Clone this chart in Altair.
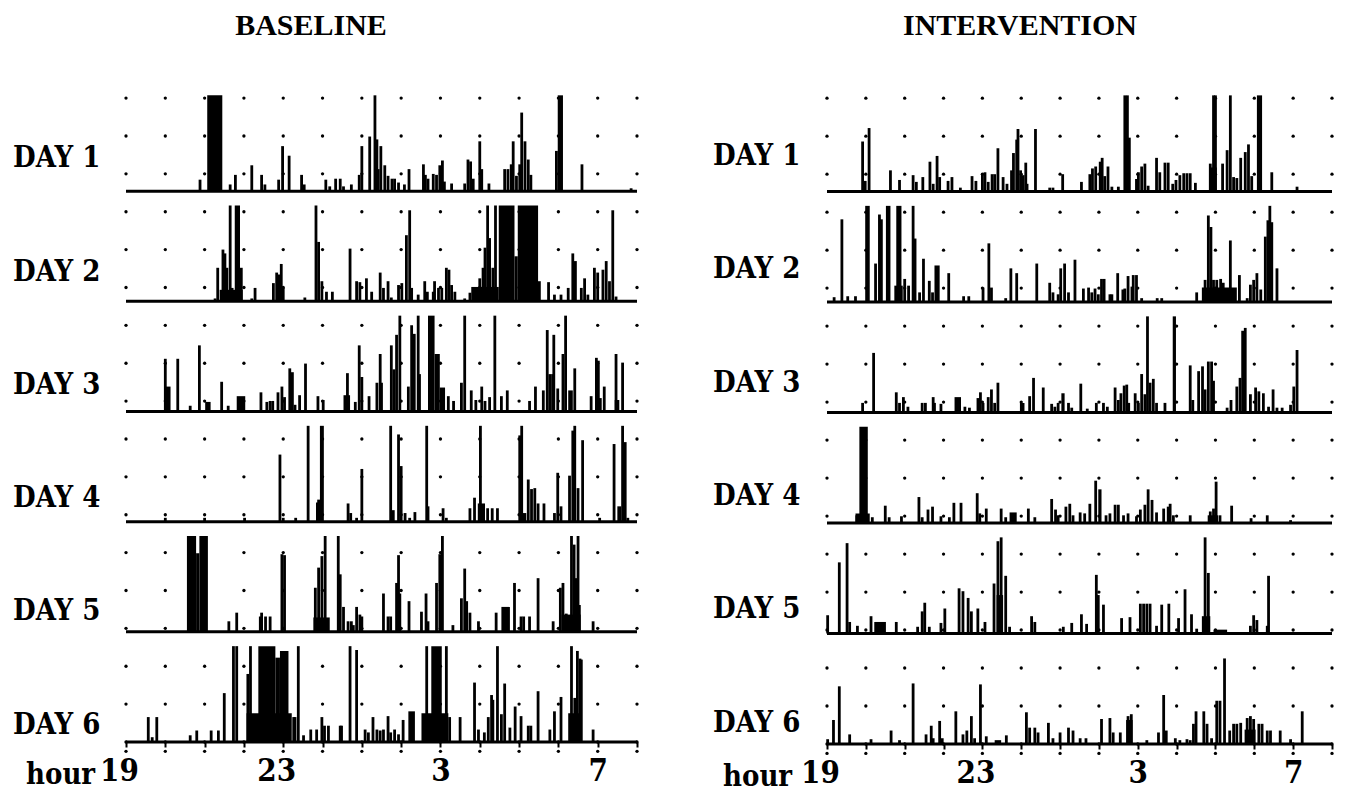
import altair as alt
import pandas as pd

# ---------------- data (minutes after 19:00, activity height in % of band) ----------------
HOUR_START, HOUR_END = 19, 32
TICK_HOURS = list(range(19, 33))
LABEL_HOURS = [19, 23, 27, 31]
LABEL_TEXT = ["19", "23", "3", "7"]
DAYS = [1, 2, 3, 4, 5, 6]

B1 = [(113,12),(159,7),(167,17),(192,27),(207,17),(212,7),(233,12),(239,47),(249,37),(268,17),(272,7),(305,12),(311,5),(320,13),(327,13),(332,5),(344,7),(356,17),(360,47),(372,57),(380,100),(383,54),(385,23),(389,47),(395,27),(400,16),(406,13),(410,13),(416,9),(425,7),(432,23),(454,28),(457,17),(461,13),(469,18),(474,17),(479,27),(483,32),(486,10),(497,8),(517,8),(522,33),(526,31),(530,13),(540,52),(543,23),(554,8),(578,23),(583,23),(588,28),(591,52),(596,16),(601,28),(604,82),(609,52),(614,33),(618,17),(657,42),(696,28),(771,3)]
B1_BLOCKS = [(124,147,100),(659,667,100)]

B2 = [(136,3),(140,35),(148,54),(151,50),(154,35),(159,100),(162,14),(176,35),(192,3),(197,14),(225,19),(230,30),(234,28),(237,39),(240,14),(273,4),(290,100),(294,62),(299,21),(306,10),(315,10),(342,55),(352,21),(357,20),(367,24),(375,10),(388,30),(393,14),(400,21),(405,4),(416,17),(421,19),(428,69),(433,95),(436,14),(446,7),(456,21),(460,10),(469,10),(471,21),(477,14),(482,14),(489,35),(493,33),(497,17),(502,10),(517,3),(525,9),(532,14),(540,24),(545,35),(548,56),(552,100),(555,66),(560,35),(564,100),(631,21),(645,20),(654,7),(664,7),(675,14),(682,50),(686,42),(695,14),(700,24),(705,7),(715,35),(720,30),(728,33),(733,42),(738,21),(743,95),(748,5)]
B2_BLOCKS = [(143,178,12),(166,174,100),(527,569,15),(569,593,100),(593,598,47),(598,629,100)]

B3 = [(60,55),(79,55),(98,6),(112,69),(123,10),(127,10),(146,31),(156,6),(206,20),(215,10),(220,11),(224,11),(232,20),(238,26),(242,15),(250,45),(254,41),(258,7),(265,17),(274,50),(293,16),(301,12),(338,40),(350,10),(356,69),(360,36),(371,16),(383,30),(388,60),(390,30),(405,69),(409,44),(413,80),(418,100),(431,26),(436,90),(440,81),(446,100),(448,39),(492,16),(500,11),(512,30),(517,100),(527,22),(534,12),(543,26),(548,11),(555,15),(563,100),(573,16),(582,22),(616,11),(625,26),(637,22),(643,85),(647,39),(653,80),(659,24),(667,60),(671,100),(685,45),(710,16),(718,56),(721,53),(724,14),(730,26),(748,60),(758,51)]
B3_BLOCKS = [(61,68,26),(169,182,16),(332,342,17),(461,471,100),(471,479,60),(479,487,25),(649,654,39),(675,682,22),(746,753,12)]

B4 = [(60,4),(120,4),(181,4),(235,70),(240,4),(259,4),(278,100),(294,23),(339,19),(343,9),(352,4),(360,55),(404,100),(408,12),(416,91),(420,58),(426,9),(433,4),(441,10),(459,100),(461,16),(484,14),(489,4),(525,14),(532,25),(541,100),(552,14),(559,14),(567,14),(601,90),(604,100),(614,44),(619,34),(624,35),(629,19),(638,19),(654,9),(659,51),(664,16),(677,48),(682,95),(685,100),(690,35),(697,85),(723,4),(745,81),(758,100),(762,83),(766,4)]
B4_BLOCKS = [(290,296,20),(296,302,100),(537,548,19),(606,611,9),(750,756,16)]

B5 = [(157,11),(169,20),(205,16),(207,20),(213,16),(220,16),(238,81),(242,80),(289,46),(294,67),(299,79),(304,100),(324,100),(327,60),(332,26),(339,11),(344,11),(347,7),(352,26),(357,18),(360,16),(393,40),(400,16),(404,16),(413,51),(416,80),(418,40),(432,32),(451,21),(458,40),(461,11),(474,51),(479,81),(483,100),(499,7),(512,35),(517,66),(520,32),(525,20),(538,11),(565,20),(593,51),(603,16),(607,16),(616,16),(629,56),(652,11),(663,46),(667,51),(672,19),(680,100),(684,91),(687,56),(690,100),(692,28),(713,11)]
B5_BLOCKS = [(93,107,100),(107,112,82),(112,125,100),(286,311,15),(573,586,26),(665,694,18)]

B6 = [(34,26),(40,5),(47,26),(98,7),(108,12),(130,12),(141,12),(150,51),(164,100),(169,100),(186,71),(190,100),(192,27),(197,22),(256,26),(258,26),(263,100),(271,7),(282,13),(291,13),(299,26),(303,17),(309,17),(327,17),(329,17),(342,100),(352,96),(365,13),(370,10),(377,26),(383,13),(388,12),(393,13),(400,27),(404,10),(410,13),(416,8),(423,23),(459,100),(489,100),(494,26),(510,26),(532,62),(538,13),(547,10),(553,26),(558,49),(560,44),(567,100),(573,29),(578,61),(586,15),(594,37),(603,27),(614,17),(618,17),(629,53),(647,13),(654,32),(664,47),(680,100),(685,46),(689,95),(693,87),(695,86),(713,13)]
B6_BLOCKS = [(184,253,30),(202,228,100),(228,235,88),(235,248,95),(431,441,32),(451,492,30),(466,482,100),(675,695,30)]

I1 = [(55,52),(59,11),(65,66),(98,22),(112,12),(133,17),(138,10),(148,15),(159,31),(164,8),(170,37),(174,15),(187,11),(193,15),(206,4),(224,16),(230,11),(240,19),(244,20),(249,10),(255,18),(259,18),(264,45),(272,15),(278,8),(285,22),(288,40),(293,54),(295,65),(299,22),(303,17),(307,30),(309,8),(322,65),(344,4),(349,4),(364,18),(393,10),(406,18),(410,24),(415,26),(422,31),(425,35),(429,16),(434,26),(440,5),(450,5),(460,100),(464,100),(467,56),(478,13),(481,20),(486,26),(491,29),(496,6),(509,35),(514,20),(522,30),(527,30),(534,8),(539,12),(545,17),(551,19),(556,19),(561,19),(569,9),(592,29),(597,100),(600,100),(611,29),(618,43),(623,100),(628,15),(633,14),(639,35),(646,41),(651,49),(656,16),(687,20),(726,5)]
I1_BLOCKS = [(590,602,25),(664,672,100)]

I2 = [(11,5),(23,86),(32,6),(44,6),(75,40),(81,91),(84,86),(120,24),(126,17),(133,100),(136,66),(143,10),(149,45),(158,22),(163,10),(188,30),(211,6),(219,6),(241,15),(250,61),(254,15),(276,4),(284,35),(293,30),(324,40),(344,20),(349,10),(357,8),(361,35),(367,40),(373,10),(383,44),(396,14),(404,15),(409,10),(414,14),(419,8),(424,24),(428,24),(437,8),(440,8),(449,30),(457,13),(460,14),(465,27),(471,16),(473,28),(478,28),(486,4),(510,4),(517,4),(571,10),(584,23),(589,90),(593,78),(597,23),(602,23),(608,24),(612,20),(623,64),(637,28),(649,4),(654,18),(659,23),(664,30),(670,13),(677,68),(681,85),(684,100),(687,83),(695,35)]
I2_BLOCKS = [(59,66,100),(91,98,100),(104,117,17),(107,115,100),(166,174,38),(579,633,15)]

I3 = [(55,10),(72,62),(107,21),(112,10),(118,16),(125,6),(147,10),(152,10),(164,16),(166,10),(176,9),(213,6),(220,5),(237,21),(241,10),(249,16),(254,24),(259,10),(264,31),(313,17),(319,36),(334,26),(347,9),(352,6),(357,10),(373,10),(378,5),(392,30),(402,4),(416,10),(427,10),(433,6),(445,26),(450,13),(454,20),(459,28),(463,29),(466,10),(476,20),(481,10),(486,40),(491,19),(495,100),(499,31),(504,35),(509,10),(522,10),(561,49),(565,13),(574,43),(580,48),(584,24),(589,53),(594,53),(597,33),(618,5),(624,13),(633,27),(638,36),(642,85),(646,88),(654,19),(662,26),(667,22),(674,20),(682,6),(689,24),(695,5),(703,5),(716,8),(721,27),(726,65)]
I3_BLOCKS = [(197,207,16),(231,236,15),(298,305,10),(362,367,20),(534,539,100)]

I4 = [(46,8),(70,6),(90,18),(96,6),(115,7),(142,27),(147,6),(156,14),(163,17),(176,7),(189,6),(196,21),(207,21),(232,31),(236,10),(246,15),(269,15),(276,6),(311,15),(321,6),(347,25),(353,14),(357,8),(369,17),(375,20),(380,8),(391,11),(398,10),(406,20),(415,44),(431,8),(437,10),(445,19),(450,19),(458,8),(465,10),(478,7),(484,14),(491,19),(496,35),(502,24),(509,11),(520,15),(527,17),(530,20),(535,8),(561,8),(592,12),(597,15),(601,43),(607,8),(625,18),(655,5),(680,8),(716,3)]
I4_BLOCKS = [(44,66,10),(50,63,100),(282,293,11),(419,424,35),(588,604,8)]

I5 = [(1,19),(19,74),(31,94),(35,12),(47,8),(68,18),(107,12),(140,7),(147,23),(151,32),(158,7),(176,11),(182,26),(204,47),(210,44),(218,37),(223,23),(233,26),(244,12),(258,52),(264,96),(269,100),(276,60),(282,7),(316,18),(321,12),(365,7),(378,11),(393,20),(401,10),(416,61),(419,40),(427,30),(455,16),(468,17),(484,31),(489,31),(494,31),(499,31),(509,8),(517,30),(528,31),(543,16),(553,46),(563,20),(571,5),(584,100),(589,63),(654,8),(659,19),(664,14),(680,8),(682,60)]
I5_BLOCKS = [(73,91,12),(262,272,40),(579,592,18),(597,618,4)]

I6 = [(1,5),(10,25),(19,60),(35,10),(68,5),(99,14),(112,4),(133,63),(153,10),(161,19),(164,6),(174,24),(178,6),(199,34),(210,10),(216,14),(223,29),(228,6),(237,62),(246,8),(277,9),(308,33),(313,17),(321,17),(326,12),(342,22),(349,6),(360,12),(373,17),(380,14),(391,6),(400,6),(424,26),(437,27),(442,12),(453,12),(465,29),(470,31),(494,4),(512,12),(520,51),(524,14),(538,6),(545,4),(556,5),(561,4),(566,21),(570,34),(582,34),(587,21),(594,6),(602,45),(607,45),(614,89),(622,14),(628,21),(633,21),(639,22),(649,27),(654,29),(659,26),(667,21),(672,21),(680,14),(685,14),(700,14),(716,5),(734,34)]
I6_BLOCKS = [(259,269,4),(462,472,25),(645,662,15)]

BASELINE_SPIKES = [B1, B2, B3, B4, B5, B6]
BASELINE_BLOCKS = [B1_BLOCKS, B2_BLOCKS, B3_BLOCKS, B4_BLOCKS, B5_BLOCKS, B6_BLOCKS]
INTERV_SPIKES = [I1, I2, I3, I4, I5, I6]
INTERV_BLOCKS = [I1_BLOCKS, I2_BLOCKS, I3_BLOCKS, I4_BLOCKS, I5_BLOCKS, I6_BLOCKS]

DOT_LEVELS = [i * 0.3438 for i in range(18)]
BAND = 0.87  # full-scale height of a spike, in day-row units
LABEL_FONT = "DejaVu Serif Condensed, DejaVu Serif, serif"
TITLE_FONT = "Liberation Serif, Times New Roman, serif"


def panel(title, spikes, blocks, width, height, raise_, title_dx, title_dy,
          label_dx, hour_dx, anchor):
    xs = alt.Scale(domain=[HOUR_START, HOUR_END], nice=False, zero=False)
    ys = alt.Scale(domain=[0, 6], nice=False, zero=False)
    label_expr = " : ".join(
        [f"datum.value == {h} ? '{t}'" for h, t in zip(LABEL_HOURS, LABEL_TEXT)]
    ) + " : ''"
    xaxis = alt.Axis(values=TICK_HOURS, labelExpr=label_expr, ticks=True, tickSize=5,
                     tickWidth=2, tickColor="black", domain=False, grid=False, title=None,
                     labelFont=LABEL_FONT, labelFontSize=31, labelFontWeight="bold",
                     labelColor="black", labelPadding=9, labelFlush=False, labelOverlap=False,
                     labelOffset={"condition": {"test": "datum.value == 19 || datum.value == 23",
                                                "value": -7},
                                  "value": 0})

    def X(f):
        return alt.X(f, type="quantitative", scale=xs, axis=xaxis)

    def Y(f):
        return alt.Y(f, type="quantitative", scale=ys, axis=None)

    sp_rows, bl_rows, base_rows = [], [], []
    for d, lst in zip(DAYS, spikes):
        for m, h in lst:
            sp_rows.append({"day": d, "x": HOUR_START + m / 60, "y0": 6 - d,
                            "y1": 6 - d + h / 100 * BAND})
    for d, lst in zip(DAYS, blocks):
        for m0, m1, h in lst:
            bl_rows.append({"day": d, "x0": HOUR_START + m0 / 60, "x1": HOUR_START + m1 / 60,
                            "y0": 6 - d, "y1": 6 - d + h / 100 * BAND})
    for d in DAYS:
        base_rows.append({"day": d, "x0": HOUR_START, "x1": HOUR_END, "y": 6 - d})
    dots = pd.DataFrame([{"x": h, "y": lv} for h in TICK_HOURS for lv in DOT_LEVELS]
                        + [{"x": h, "y": -0.085} for h in TICK_HOURS])
    labels = pd.DataFrame([{"t": f"DAY {d}", "y": 6 - d + r} for d, r in zip(DAYS, raise_)])

    l_dots = alt.Chart(dots).mark_circle(size=11, color="black", opacity=1).encode(
        x=X("x"), y=Y("y"))
    l_base = alt.Chart(pd.DataFrame(base_rows)).mark_rule(color="black", strokeWidth=3).encode(
        x=X("x0"), x2="x1", y=Y("y"))
    l_block = alt.Chart(pd.DataFrame(bl_rows)).mark_rect(color="black").encode(
        x=X("x0"), x2="x1", y=Y("y0"), y2="y1")
    l_spk = alt.Chart(pd.DataFrame(sp_rows)).mark_rule(color="black", strokeWidth=2.8).encode(
        x=X("x"), y=Y("y0"), y2="y1")
    l_lab = alt.Chart(labels).mark_text(font=LABEL_FONT, fontSize=29, fontWeight="bold",
                                        color="black", align="left", baseline="middle").encode(
        x=alt.value(label_dx), y=Y("y"), text="t:N")
    l_title = alt.Chart(pd.DataFrame({"t": [title]})).mark_text(
        font=TITLE_FONT, fontSize=30, fontWeight="bold", color="black",
        align="center", baseline="alphabetic").encode(
        x=alt.value(title_dx), y=alt.value(title_dy), text="t:N")
    l_hour = alt.Chart(pd.DataFrame({"t": ["hour"]})).mark_text(
        font=LABEL_FONT, fontSize=29, fontWeight="bold", color="black",
        align="left", baseline="alphabetic").encode(
        x=alt.value(hour_dx), y=alt.value(height + 42), text="t:N")
    layers = [l_dots, l_base, l_block, l_spk, l_lab, l_title, l_hour]
    if anchor:
        # invisible point fixing the top-left corner of the whole figure
        layers.append(alt.Chart(pd.DataFrame({"a": [0]})).mark_point(
            opacity=0, size=1, filled=True).encode(x=alt.value(-117), y=alt.value(-72)))
    return alt.layer(*layers).properties(width=width, height=height)


left = panel("BASELINE", BASELINE_SPIKES, BASELINE_BLOCKS, 511, 661,
             [0.30, 0.27, 0.24, 0.214, 0.19, 0.155], 185, -46, -113, -100, True)
right = panel("INTERVENTION", INTERV_SPIKES, INTERV_BLOCKS, 505, 663,
              [0.32, 0.30, 0.27, 0.244, 0.22, 0.19], 193, -46, -114, -104, False)

chart = alt.hconcat(left, right, spacing=190, bounds="flush").properties(
    padding=0,
).configure_view(stroke=None)

chart.save("out.html", embed_options={"renderer": "svg", "actions": False})
